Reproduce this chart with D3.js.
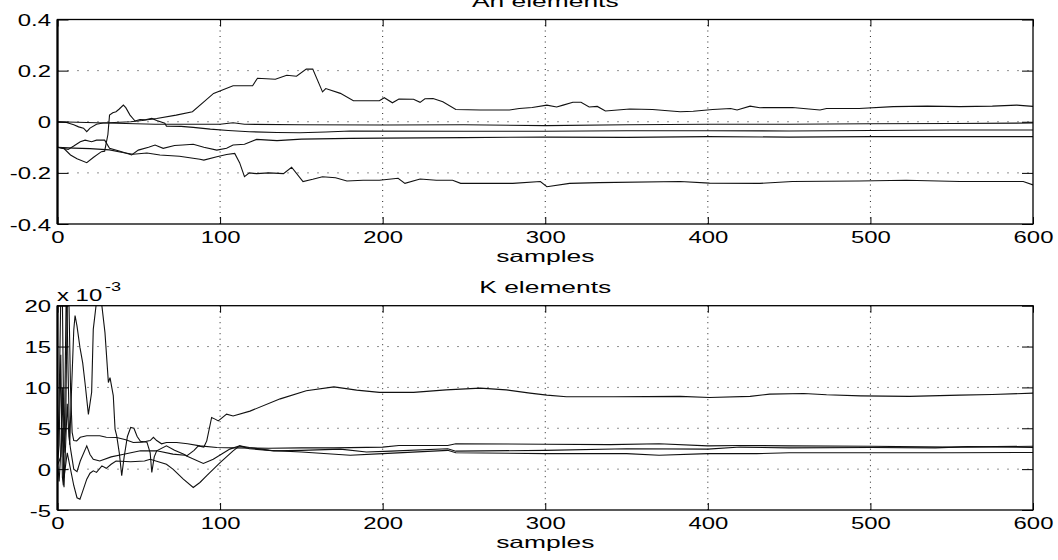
<!DOCTYPE html>
<html>
<head>
<meta charset="utf-8">
<script src="https://cdnjs.cloudflare.com/ajax/libs/d3/7.8.5/d3.min.js"></script>
<style>
body{margin:0;background:#fff;}
svg{display:block;}
text{font-family:"Liberation Sans",Arial,Helvetica,sans-serif;fill:#000;}
</style>
</head>
<body>
<div id="chart"></div>
<script>
// ticks
var xTicks = [0,100,200,300,400,500,600];
var anTicks = [-0.4,-0.2,0,0.2,0.4];
var kTicks = [-5,0,5,10,15,20];

// An elements, [sample, value]
var an1 = [[0,0],[5,-0.002],[10,-0.012],[13,-0.02],[16,-0.025],[18,-0.039],[20,-0.025],[24,-0.01],[28,-0.005],[35,-0.003],[45,0],[52,0.005],[61,0.013],[73,0.026],[83,0.039],[90,0.078],[96,0.111],[108,0.141],[120,0.141],[123,0.17],[134,0.166],[141,0.182],[147,0.178],[153,0.206],[157,0.206],[163,0.117],[165,0.13],[174,0.111],[182,0.082],[198,0.082],[201,0.094],[206,0.074],[210,0.089],[219,0.088],[223,0.076],[226,0.09],[231,0.091],[237,0.078],[245,0.048],[260,0.046],[278,0.046],[284,0.052],[292,0.056],[301,0.065],[307,0.058],[311,0.065],[317,0.076],[322,0.076],[327,0.058],[332,0.06],[337,0.042],[352,0.05],[366,0.048],[383,0.039],[391,0.041],[403,0.048],[414,0.052],[418,0.046],[426,0.061],[432,0.055],[452,0.056],[469,0.046],[473,0.052],[493,0.052],[514,0.059],[535,0.061],[555,0.059],[575,0.061],[590,0.065],[600,0.06]];
var an2 = [[0,0],[30,-0.005],[60,-0.01],[100,-0.01],[108,-0.004],[115,-0.01],[150,-0.012],[200,-0.013],[250,-0.012],[300,-0.015],[350,-0.012],[400,-0.01],[450,-0.01],[500,-0.008],[550,-0.007],[600,-0.005]];
var an3 = [[0,-0.1],[4,-0.105],[8,-0.13],[12,-0.145],[18,-0.16],[22,-0.14],[27,-0.117],[29,-0.115],[31,-0.05],[32,0.026],[34,0.035],[36,0.039],[38,0.05],[40.5,0.065],[42,0.055],[44.6,0.026],[47.7,0.003],[50.7,0.009],[54,0.008],[58,0.013],[61,0.005],[66,-0.006],[67,-0.017],[76,-0.018],[83.5,-0.022],[94,-0.029],[105,-0.034],[118,-0.039],[135,-0.042],[149,-0.043],[165,-0.04],[180,-0.036],[250,-0.037],[300,-0.037],[350,-0.035],[400,-0.035],[450,-0.036],[500,-0.034],[550,-0.032],[600,-0.032]];
var an4 = [[0,-0.1],[6.6,-0.108],[10,-0.095],[14,-0.078],[17,-0.072],[21,-0.078],[24,-0.072],[29,-0.072],[32,-0.104],[39.5,-0.117],[45.6,-0.13],[49.7,-0.111],[56,-0.1],[60,-0.091],[65,-0.104],[72,-0.093],[77,-0.091],[83.5,-0.088],[90,-0.1],[98,-0.111],[104,-0.104],[108,-0.091],[115,-0.088],[122.5,-0.069],[135,-0.074],[150,-0.068],[180,-0.065],[200,-0.064],[250,-0.062],[300,-0.06],[350,-0.061],[400,-0.058],[450,-0.06],[500,-0.058],[550,-0.058],[600,-0.058]];
var an5 = [[0,-0.1],[10,-0.103],[20,-0.105],[32,-0.11],[40,-0.12],[46.5,-0.127],[55,-0.122],[63,-0.13],[75,-0.135],[87.6,-0.147],[90,-0.15],[98,-0.137],[104,-0.128],[109,-0.124],[112,-0.16],[115,-0.215],[118,-0.2],[122.5,-0.203],[130,-0.2],[139,-0.203],[144,-0.178],[151,-0.234],[157,-0.225],[163,-0.215],[171,-0.219],[178,-0.232],[188,-0.229],[198,-0.229],[209.5,-0.221],[213.7,-0.241],[223,-0.224],[233,-0.229],[243,-0.229],[248,-0.241],[260,-0.241],[280,-0.241],[297,-0.234],[301,-0.254],[315,-0.241],[333,-0.238],[383,-0.234],[401,-0.24],[432,-0.241],[452,-0.234],[493,-0.232],[522,-0.229],[555,-0.234],[594,-0.234],[600,-0.247]];

// K elements, x 10^-3
var k1 = [[0,0.5],[1,3],[2,14],[3,-1],[3.6,-2],[4.5,8],[5.5,24],[6.5,12],[7.5,3],[8.5,9],[10,17],[10.8,18.8],[12,17.5],[13.8,14.9],[15.5,13],[16.9,10.6],[19,6.7],[21,9.4],[22,17.1],[24,20.5],[25.5,21],[27,20.5],[29.2,16.7],[31.3,10.6],[32.3,11.2],[34.3,9],[35.4,4.9],[36.4,4.1],[38,2],[39.5,-0.8],[41,1.5],[43,4],[45,5.1],[47,5],[49,4],[51,3.4],[55,3.3],[57,2],[58,-0.4],[59.5,1.5],[61,2.24],[67,2.85],[72,2.3],[77.4,1.84],[79.5,1.63],[84,2.3],[86.6,2.85],[90,2.7],[91.8,3.46],[94.8,6.32],[96.9,6.12],[98.9,5.9],[104,6.73],[108,6.5],[118.4,7.1],[137,8.6],[153,9.6],[170,10.07],[184,9.67],[198,9.39],[219,9.39],[239,9.7],[260,9.91],[276,9.7],[290.6,9.3],[301,9.06],[313,8.85],[342,8.85],[383,8.9],[401,8.77],[426,8.9],[438,9.18],[459,9.26],[473,9.1],[494,8.97],[524,8.9],[555,9.06],[575,9.14],[600,9.3]];
var k2 = [[0,1.5],[1,8],[2,21],[3,21],[4,2],[5,5],[6,21],[7,21],[8,10],[9,4.5],[10,3.5],[11.8,3.46],[14,3.9],[18,4.08],[26,4.08],[30,3.9],[36.4,3.88],[42,3.6],[46.6,3.26],[52,3.3],[57,3.5],[59,3.9],[61,3.5],[64,3.1],[67,3.26],[73.3,3.26],[80,3.1],[87.6,2.85],[98,2.65],[110,2.6],[130,2.55],[150,2.6],[170,2.6],[200,2.7],[210,2.9],[240,2.9],[245,3.1],[300,3.05],[340,3.0],[370,3.1],[400,2.85],[420,2.9],[450,2.85],[500,2.8],[550,2.7],[600,2.8]];
var k3 = [[0,1],[1,-1.5],[2,2],[3,10],[4,-2.2],[5,3],[6,8],[7,4],[8,2.5],[10,0],[12,-0.3],[14,1],[18,2.85],[20,1.8],[22,1.2],[26,1.0],[33,1.5],[40,1.8],[51,2.24],[61,2.24],[71,1.84],[78.4,1.71],[89.7,0.7],[95.8,1.22],[106,2.45],[112,2.85],[118,2.65],[133,2.24],[150,2.3],[174,2.45],[190,2.1],[205,2.2],[240,2.5],[245,2.2],[300,2.3],[350,2.5],[400,2.45],[420,2.7],[450,2.6],[500,2.65],[540,2.6],[560,2.75],[600,2.65]];
var k4 = [[0,0.5],[1,1],[2,1.5],[3,5],[4,-1],[6,2],[8,0],[10,-2],[12,-3.5],[13.8,-3.67],[15,-3],[18,-1.22],[20,-0.5],[22,-0.2],[24,-0.4],[27.3,0.4],[30,0.1],[33,0.6],[36,1.0],[45,0.9],[53.5,1.0],[57,1.2],[62,0.9],[67,0.6],[71,0],[77.4,-1.22],[83.5,-2.24],[87.6,-1.63],[91.8,-0.8],[100,0.8],[108,2.24],[112,2.85],[118,2.5],[130,2.3],[150,2.1],[180,1.7],[200,1.9],[240,2.3],[245,2.0],[300,1.9],[350,1.9],[370,1.7],[400,1.9],[430,1.9],[450,2.0],[500,2.0],[550,2.0],[600,2.04]];

var W = 1058, H = 560;
var left = 57.5, right = 1033;
var fs = 16.5, tickStretch = 1.45, labelStretch = 1.6;

var svg = d3.select("#chart").append("svg").attr("width", W).attr("height", H);
var defs = svg.append("defs");

function fmtTick(d){
  return String(d); // plain hyphen, like the original
}

function panel(id, top, bot, ydom, yticks, data, title){
  var x = d3.scaleLinear().domain([0,600]).range([left,right]);
  var y = d3.scaleLinear().domain(ydom).range([bot,top]);
  var g = svg.append("g");

  // dotted grid
  g.selectAll(".vg").data(xTicks.slice(1,-1)).enter().append("line")
    .attr("x1", d=>x(d)).attr("x2", d=>x(d)).attr("y1", top).attr("y2", bot)
    .attr("stroke", "#222").attr("stroke-width", 1).attr("stroke-dasharray", "1,4.5");
  g.selectAll(".hg").data(yticks.slice(1,-1)).enter().append("line")
    .attr("x1", left).attr("x2", right).attr("y1", d=>y(d)).attr("y2", d=>y(d))
    .attr("stroke", "#222").attr("stroke-width", 1).attr("stroke-dasharray", "1,9");

  defs.append("clipPath").attr("id", id).append("rect")
    .attr("x", left).attr("y", top).attr("width", right-left).attr("height", bot-top);

  var line = d3.line().x(d=>x(d[0])).y(d=>y(d[1]));
  g.append("g").attr("clip-path", "url(#"+id+")")
    .selectAll("path").data(data).enter().append("path")
    .attr("d", line).attr("fill", "none").attr("stroke", "#111").attr("stroke-width", 1.1);

  // inward ticks on all sides
  var ax = [
    [d3.axisBottom(x).tickValues(xTicks).tickSize(-7), "translate(0,"+bot+")"],
    [d3.axisTop(x).tickValues(xTicks).tickSize(-7), "translate(0,"+top+")"],
    [d3.axisLeft(y).tickValues(yticks).tickSize(-11), "translate("+left+",0)"],
    [d3.axisRight(y).tickValues(yticks).tickSize(-11), "translate("+right+",0)"]
  ];
  ax.forEach(function(a){
    var t = g.append("g").attr("transform", a[1]).call(a[0].tickFormat(""));
    t.select(".domain").remove();
    t.selectAll("line").attr("stroke", "#000");
  });

  // frame
  g.append("rect").attr("x", left).attr("y", top).attr("width", right-left).attr("height", bot-top)
    .attr("fill", "none").attr("stroke", "#000").attr("stroke-width", 1.3);
  g.append("line").attr("x1", left).attr("x2", left).attr("y1", top).attr("y2", bot)
    .attr("stroke", "#000").attr("stroke-width", 2.2);

  // tick labels
  var xl = g.append("g").attr("transform", "translate(0,"+bot+")")
    .call(d3.axisBottom(x).tickValues(xTicks).tickSize(0).tickFormat(fmtTick));
  xl.select(".domain").remove();
  xl.selectAll("text").attr("y", null).attr("dy", null).attr("fill", "#000")
    .attr("font-size", fs).attr("font-family", null)
    .attr("transform", "translate(0,18.5) scale("+tickStretch+",1)");

  var yl = g.append("g").attr("transform", "translate("+left+",0)")
    .call(d3.axisLeft(y).tickValues(yticks).tickSize(0).tickFormat(fmtTick));
  yl.select(".domain").remove();
  yl.selectAll("text").attr("x", null).attr("dy", null).attr("fill", "#000")
    .attr("font-size", fs).attr("font-family", null)
    .attr("transform", "translate(-6.5,6) scale("+tickStretch+",1)");

  // xlabel and title
  g.append("text").attr("text-anchor", "middle").attr("font-size", fs)
    .attr("transform", "translate("+((left+right)/2)+","+(bot+37.7)+") scale("+labelStretch+",1)")
    .text("samples");
  g.append("text").attr("text-anchor", "middle").attr("font-size", fs)
    .attr("transform", "translate("+((left+right)/2)+","+(top-12.8)+") scale("+labelStretch+",1)")
    .text(title);
  return g;
}

panel("clipAn", 19.5, 224, [-0.4,0.4], anTicks, [an1,an2,an3,an4,an5], "An elements");
var gk = panel("clipK", 305.7, 510, [-5,20], kTicks, [k1,k2,k3,k4], "K elements");

// exponent note
gk.append("text").attr("font-size", fs)
  .attr("transform", "translate(57,300.7) scale("+tickStretch+",1)").text("x 10");
gk.append("text").attr("font-size", 12.5)
  .attr("transform", "translate(105,290.7) scale("+tickStretch+",1)").text("-3");
</script>
</body>
</html>
